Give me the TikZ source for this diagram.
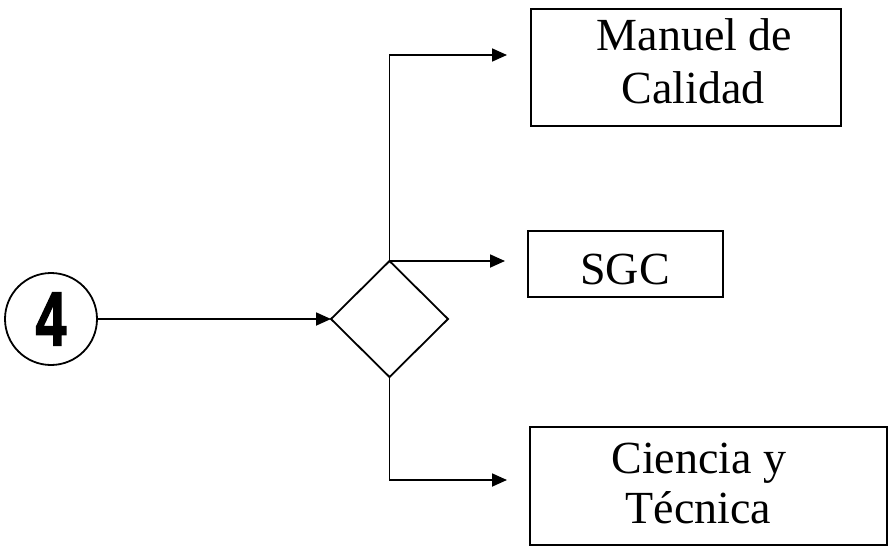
\documentclass[tikz,border=0pt]{standalone}
\usepackage{fontspec}
\setmainfont{Liberation Serif}
\newfontfamily\digitfont[BoldFeatures={FakeBold=2.5}]{Liberation Sans}
\usetikzlibrary{shapes.geometric,arrows.meta}
\begin{document}
\begin{tikzpicture}[x=1pt,y=-1pt,
  box/.style={draw, line width=2pt, inner sep=0pt, outer sep=0pt},
  lbl/.style={anchor=base, inner sep=0pt, font=\fontsize{46}{52}\selectfont},
  link/.style={line width=1.8pt, -{Triangle[length=15pt,width=13pt]}}]
  \useasboundingbox (0,0) rectangle (890,551);

  % numbered start marker
  \node[draw, circle, line width=1.8pt, minimum size=92pt, inner sep=0pt, outer sep=0pt]
    (start) at (51,319)
    {\scalebox{0.72}[1]{\digitfont\bfseries\fontsize{76}{76}\selectfont 4}};

  % decision
  \node[draw, diamond, line width=1.8pt, aspect=1, minimum width=117pt,
        minimum height=116pt, inner sep=0pt, outer sep=0pt] (dec) at (389.5,319) {};

  % target boxes
  \node[box, minimum width=310pt, minimum height=117pt] (manual) at (686,67.5) {};
  \node[lbl] (manualA) at (694.5,51) {Manuel de};
  \node[lbl] (manualB) at (693,103) {Calidad};

  \node[box, minimum width=195pt, minimum height=66pt] (sgc) at (625.5,264) {};
  \node[lbl] (sgcA) at (625,284) {SGC};

  \node[box, minimum width=357pt, minimum height=118pt] (cyt) at (708.5,486) {};
  \node[lbl] (cytA) at (699,473) {Ciencia y};
  \node[lbl] (cytB) at (698.5,523) {Técnica};

  % arrow ends in front of the boxes
  \coordinate (toManual) at (507,55);
  \coordinate (toSgc) at (505,261);
  \coordinate (toCyt) at (507,480);

  % connectors
  \draw[link] (start.east) -- (dec.west);
  \draw[link] (dec.north) |- (toManual);
  \draw[link] (dec.north) -- (toSgc);
  \draw[link] (dec.south) |- (toCyt);
\end{tikzpicture}
\end{document}
